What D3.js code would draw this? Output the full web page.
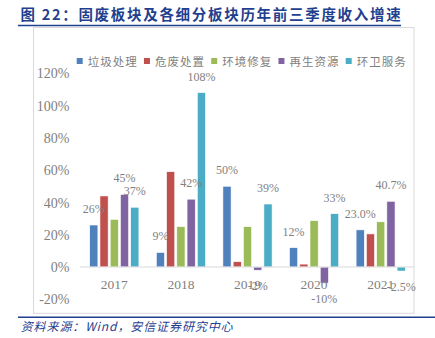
<!DOCTYPE html>
<html><head><meta charset="utf-8">
<script src="https://cdn.jsdelivr.net/npm/d3@7"></script>
<style>
html,body{margin:0;padding:0;background:#fff;}
svg{display:block;}
</style></head>
<body>
<svg id="chart" width="435" height="338"></svg>
<script>
const categories = ["2017", "2018", "2019", "2020", "2021"];
const seriesNames = ["垃圾处理", "危废处置", "环境修复", "再生资源", "环卫服务"];
const seriesColors = ["#4F81BD", "#C0504D", "#9BBB59", "#8064A2", "#4BACC6"];
const garbage = [26, 9, 50, 12, 23.0];
const hazardous = [44, 59, 3.3, 1.8, 20.5];
const remediation = [29.5, 25, 25, 28.7, 28];
const recycling = [45, 42, -2, -10, 40.7];
const sanitation = [37, 108, 39, 33, -2.5];
const garbageLabels = ["26%", "9%", "50%", "12%", "23.0%"];
const recyclingLabels = ["45%", "42%", "-2%", "-10%", "40.7%"];
const sanitationLabels = ["37%", "108%", "39%", "33%", "-2.5%"];
const yTicks = [-20, 0, 20, 40, 60, 80, 100, 120];
const titleText = "图 22：固废板块及各细分板块历年前三季度收入增速";
const sourceText = "资料来源：Wind，安信证券研究中心";

const seriesValues = [garbage, hazardous, remediation, recycling, sanitation];
const seriesLabels = [garbageLabels, null, null, recyclingLabels, sanitationLabels];

const svg = d3.select("#chart");
const serif = "'Liberation Serif','Times New Roman',serif";
const cjk = "'Noto Sans CJK SC','Noto Sans',sans-serif";

// Title
svg.append("text").attr("x", 20.5).attr("y", 20)
  .attr("font-family", cjk).attr("font-weight", "bold").attr("font-size", 14.5)
  .attr("letter-spacing", 1.7).attr("fill", "#1F3F8F").text(titleText);
svg.append("line").attr("x1", 18).attr("x2", 401).attr("y1", 25.5).attr("y2", 25.5)
  .attr("stroke", "#1F3F8F").attr("stroke-width", 1.5);

// chart border
svg.append("rect").attr("x", 33.5).attr("y", 27.5).attr("width", 380.5).attr("height", 285.8)
  .attr("fill", "none").attr("stroke", "#D9D9D9").attr("stroke-width", 1);

// footer
svg.append("line").attr("x1", 18).attr("x2", 435).attr("y1", 317.3).attr("y2", 317.3)
  .attr("stroke", "#1F3F8F").attr("stroke-width", 1.5);
svg.append("text").attr("x", 20.7).attr("y", 331)
  .attr("font-family", cjk).attr("font-style", "italic").attr("font-size", 12)
  .attr("letter-spacing", 0.9).attr("fill", "#1F3F8F").text(sourceText);

// scales
const x = d3.scaleBand().domain(categories).range([81, 414]).paddingInner(0).paddingOuter(0);
const groupW = 51.25;
const xs = d3.scaleBand().domain(d3.range(seriesNames.length)).range([0, groupW]).paddingInner(0.2).paddingOuter(0.1);
const y = d3.scaleLinear().domain([-20, 120]).range([299.3, 73.2]);

// y axis
const yAxis = d3.axisLeft(y).tickValues(yTicks).tickFormat(d => d + "%").tickSize(0).tickPadding(0);
const yg = svg.append("g").attr("transform", "translate(69.5,0)").call(yAxis);
yg.select(".domain").remove();
yg.selectAll("text").attr("font-family", serif).attr("font-size", 14).attr("fill", "#7F7F7F").attr("dy", "0.33em");

// bars
seriesValues.forEach((vals, si) => {
  svg.append("g").selectAll("rect").data(vals).join("rect")
    .attr("x", (d, i) => x(categories[i]) + (x.bandwidth() - groupW) / 2 + xs(si))
    .attr("width", xs.bandwidth())
    .attr("y", d => y(Math.max(0, d)))
    .attr("height", d => Math.abs(y(d) - y(0)))
    .attr("fill", seriesColors[si])
    .attr("stroke", "#ffffff").attr("stroke-width", 0.6);
});

// zero line
svg.append("line").attr("x1", 80).attr("x2", 414).attr("y1", y(0)).attr("y2", y(0))
  .attr("stroke", "#D9D9D9").attr("stroke-width", 1.2);

// x axis
const xAxis = d3.axisBottom(x).tickSize(0).tickPadding(0);
const xg = svg.append("g").attr("transform", `translate(0,${y(0)})`).call(xAxis);
xg.select(".domain").remove();
xg.selectAll("text").attr("font-family", serif).attr("font-size", 13.5).attr("fill", "#7F7F7F")
  .attr("dy", "0").attr("y", 22);

// data labels
seriesLabels.forEach((labs, si) => {
  if (!labs) return;
  const vals = seriesValues[si];
  svg.append("g").selectAll("text").data(vals).join("text")
    .attr("x", (d, i) => x(categories[i]) + (x.bandwidth() - groupW) / 2 + xs(si) + xs.bandwidth() / 2)
    .attr("y", d => d >= 0 ? y(d) - 12 : y(d) + 20)
    .attr("text-anchor", "middle")
    .attr("font-family", serif).attr("font-size", 12).attr("fill", "#7F7F7F")
    .text((d, i) => labs[i]);
});

// legend
const legend = svg.append("g");
seriesNames.forEach((name, i) => {
  const lx = 76.7 + i * 67.25;
  legend.append("rect").attr("x", lx).attr("y", 58).attr("width", 6).attr("height", 6).attr("fill", seriesColors[i]);
  legend.append("text").attr("x", lx + 11).attr("y", 65.5)
    .attr("font-family", cjk).attr("font-size", 11.5).attr("letter-spacing", 1)
    .attr("fill", "#7F7F7F").text(name);
});
</script>
</body></html>
